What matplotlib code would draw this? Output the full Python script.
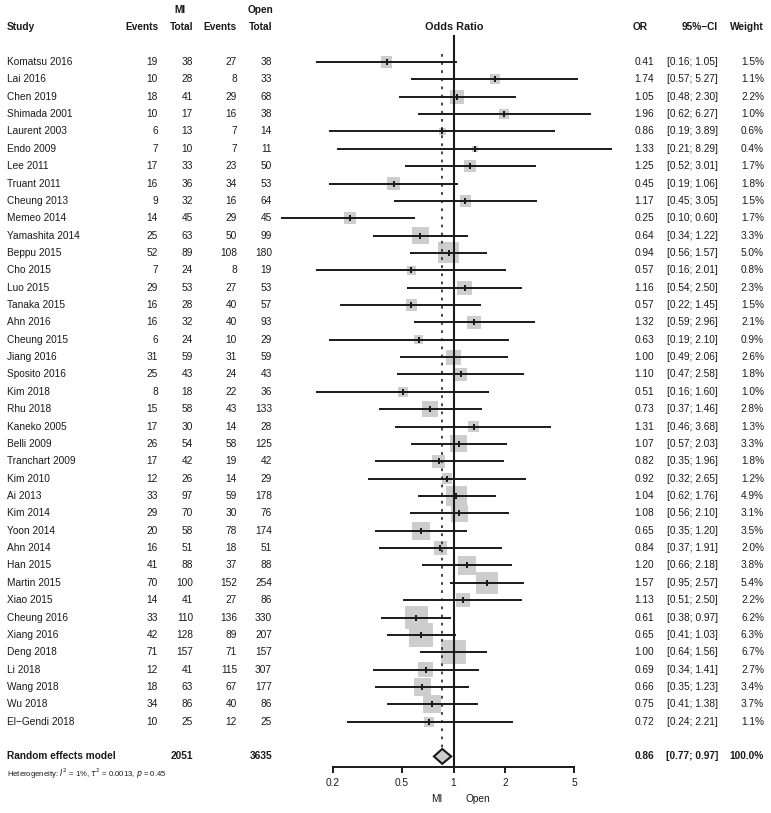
import numpy as np
import matplotlib
matplotlib.use("Agg")
import matplotlib.pyplot as plt
from matplotlib.transforms import blended_transform_factory
from matplotlib.patches import Polygon

plt.rcParams['font.family'] = ['Liberation Sans', 'DejaVu Sans']

studies = ["Komatsu 2016", "Lai 2016", "Chen 2019", "Shimada 2001", "Laurent 2003", "Endo 2009",
           "Lee 2011", "Truant 2011", "Cheung 2013", "Memeo 2014", "Yamashita 2014", "Beppu 2015",
           "Cho 2015", "Luo 2015", "Tanaka 2015", "Ahn 2016", "Cheung 2015", "Jiang 2016",
           "Sposito 2016", "Kim 2018", "Rhu 2018", "Kaneko 2005", "Belli 2009", "Tranchart 2009",
           "Kim 2010", "Ai 2013", "Kim 2014", "Yoon 2014", "Ahn 2014", "Han 2015", "Martin 2015",
           "Xiao 2015", "Cheung 2016", "Xiang 2016", "Deng 2018", "Li 2018", "Wang 2018", "Wu 2018",
           "El\u2212Gendi 2018"]
mi_events = [19, 10, 18, 10, 6, 7, 17, 16, 9, 14, 25, 52, 7, 29, 16, 16, 6, 31, 25, 8, 15, 17, 26, 17,
             12, 33, 29, 20, 16, 41, 70, 14, 33, 42, 71, 12, 18, 34, 10]
mi_total = [38, 28, 41, 17, 13, 10, 33, 36, 32, 45, 63, 89, 24, 53, 28, 32, 24, 59, 43, 18, 58, 30, 54, 42,
            26, 97, 70, 58, 51, 88, 100, 41, 110, 128, 157, 41, 63, 86, 25]
open_events = [27, 8, 29, 16, 7, 7, 23, 34, 16, 29, 50, 108, 8, 27, 40, 40, 10, 31, 24, 22, 43, 14, 58, 19,
               14, 59, 30, 78, 18, 37, 152, 27, 136, 89, 71, 115, 67, 40, 12]
open_total = [38, 33, 68, 38, 14, 11, 50, 53, 64, 45, 99, 180, 19, 53, 57, 93, 29, 59, 43, 36, 133, 28, 125, 42,
              29, 178, 76, 174, 51, 88, 254, 86, 330, 207, 157, 307, 177, 86, 25]
odds_ratio = [0.41, 1.74, 1.05, 1.96, 0.86, 1.33, 1.25, 0.45, 1.17, 0.25, 0.64, 0.94, 0.57, 1.16, 0.57, 1.32,
              0.63, 1.00, 1.10, 0.51, 0.73, 1.31, 1.07, 0.82, 0.92, 1.04, 1.08, 0.65, 0.84, 1.20, 1.57, 1.13,
              0.61, 0.65, 1.00, 0.69, 0.66, 0.75, 0.72]
ci_low = [0.16, 0.57, 0.48, 0.62, 0.19, 0.21, 0.52, 0.19, 0.45, 0.10, 0.34, 0.56, 0.16, 0.54, 0.22, 0.59,
          0.19, 0.49, 0.47, 0.16, 0.37, 0.46, 0.57, 0.35, 0.32, 0.62, 0.56, 0.35, 0.37, 0.66, 0.95, 0.51,
          0.38, 0.41, 0.64, 0.34, 0.35, 0.41, 0.24]
ci_high = [1.05, 5.27, 2.30, 6.27, 3.89, 8.29, 3.01, 1.06, 3.05, 0.60, 1.22, 1.57, 2.01, 2.50, 1.45, 2.96,
           2.10, 2.06, 2.58, 1.60, 1.46, 3.68, 2.03, 1.96, 2.65, 1.76, 2.10, 1.20, 1.91, 2.18, 2.57, 2.50,
           0.97, 1.03, 1.56, 1.41, 1.23, 1.38, 2.21]
weights = [1.5, 1.1, 2.2, 1.0, 0.6, 0.4, 1.7, 1.8, 1.5, 1.7, 3.3, 5.0, 0.8, 2.3, 1.5, 2.1, 0.9, 2.6, 1.8,
           1.0, 2.8, 1.3, 3.3, 1.8, 1.2, 4.9, 3.1, 3.5, 2.0, 3.8, 5.4, 2.2, 6.2, 6.3, 6.7, 2.7, 3.4, 3.7, 1.1]
summary_label = "Random effects model"
summary_mi_total = 2051
summary_open_total = 3635
summary_or = 0.86
summary_low = 0.77
summary_high = 0.97
summary_weight = 100.0
heterogeneity = r"Heterogeneity: $I^2$ = 1%, $\tau^2$ = 0.0013, $p$ = 0.45"
x_ticks = [0.2, 0.5, 1, 2, 5]
x_tick_labels = ["0.2", "0.5", "1", "2", "5"]

W, H = 771, 813
fig = plt.figure(figsize=(W / 100, H / 100), dpi=100)
fig.patch.set_facecolor("white")

# pixel geometry
x_left_px, x_right_px = 270, 640
x1_px, decade_px = 453.5, 172.4
row0_px, row_px = 62.0, 17.36

ax = fig.add_axes([x_left_px / W, 0, (x_right_px - x_left_px) / W, 1])
ax.set_xscale("log")
ax.set_xlim(10 ** ((x_left_px - x1_px) / decade_px), 10 ** ((x_right_px - x1_px) / decade_px))
ax.set_ylim((H - row0_px) / row_px, -row0_px / row_px)
ax.axis("off")

def prow(px):
    return (px - row0_px) / row_px

n = len(studies)
rows = np.arange(n)
sum_row = n + 1
tc = "#1a1a1a"
fs = 7.3

trans = blended_transform_factory(fig.transFigure, ax.transData)

def txt(xpx, row, s, ha="right", bold=False, size=fs, **kw):
    ax.text(xpx / W, row, s, transform=trans, ha=ha, va="center", fontsize=size,
            fontweight="bold" if bold else "normal", color=tc, **kw)

# headers
hdr_row = prow(27)
txt(180, prow(10), "MI", ha="center", bold=True)
txt(260, prow(10), "Open", ha="center", bold=True)
txt(7, hdr_row, "Study", ha="left", bold=True)
txt(158, hdr_row, "Events", bold=True)
txt(193, hdr_row, "Total", bold=True)
txt(237, hdr_row, "Events", bold=True)
txt(272, hdr_row, "Total", bold=True)
txt(454, hdr_row, "Odds Ratio", ha="center", bold=True, size=fs + 0.5)
txt(640, hdr_row, "OR", ha="center", bold=True)
txt(718, hdr_row, "95%\u2212CI", bold=True)
txt(764, hdr_row, "Weight", bold=True)

for i in range(n):
    txt(7, i, studies[i], ha="left")
    txt(158, i, str(mi_events[i]))
    txt(193, i, str(mi_total[i]))
    txt(237, i, str(open_events[i]))
    txt(272, i, str(open_total[i]))
    txt(654, i, f"{odds_ratio[i]:.2f}")
    txt(718, i, f"[{ci_low[i]:.2f}; {ci_high[i]:.2f}]")
    txt(764, i, f"{weights[i]:.1f}%")

txt(7, sum_row, summary_label, ha="left", bold=True)
txt(193, sum_row, str(summary_mi_total), bold=True)
txt(272, sum_row, str(summary_open_total), bold=True)
txt(654, sum_row, f"{summary_or:.2f}", bold=True)
txt(718, sum_row, f"[{summary_low:.2f}; {summary_high:.2f}]", bold=True)
txt(764, sum_row, f"{summary_weight:.1f}%", bold=True)
txt(7, prow(774), heterogeneity, ha="left", size=5.6)

# reference lines
dh = 0.43
axis_row = prow(767)
ax.plot([1, 1], [prow(36), axis_row], color=tc, lw=1.5, zorder=3)
ax.plot([summary_or, summary_or], [prow(54), sum_row - dh], color="#333333", lw=1.3,
        ls=(0, (1.5, 3.0)), zorder=3)

# squares (side proportional to sqrt weight)
side_px = 24.3 * np.sqrt(np.array(weights) / 6.7)
ax.scatter(odds_ratio, rows, marker="s", s=(side_px * 0.72) ** 2, color="#cdcdcd",
           edgecolors="none", zorder=2)
# CI lines
ax.hlines(rows, ci_low, ci_high, color=tc, lw=1.4, zorder=4)
ax.scatter(odds_ratio, rows, marker="|", s=22, color=tc, linewidths=1.4, zorder=5)

# diamond
diamond = Polygon([[summary_low, sum_row], [summary_or, sum_row - dh], [summary_high, sum_row],
                   [summary_or, sum_row + dh]], closed=True, facecolor="#cdcdcd",
                  edgecolor=tc, lw=1.5, zorder=6)
ax.add_patch(diamond)

# bottom axis
ax.plot([x_ticks[0], x_ticks[-1]], [axis_row, axis_row], color=tc, lw=1.4, zorder=3)
tick_len = 5 / row_px
for t, lab in zip(x_ticks, x_tick_labels):
    ax.plot([t, t], [axis_row, axis_row + tick_len], color=tc, lw=1.4, zorder=3)
    ax.text(t, prow(783), lab, ha="center", va="center", fontsize=fs, color=tc)
ax.text(0.80, prow(799), "MI", ha="center", va="center", fontsize=fs, color=tc)
ax.text(1.39, prow(799), "Open", ha="center", va="center", fontsize=fs, color=tc)

fig.savefig("out.png", dpi=100, facecolor="white")
